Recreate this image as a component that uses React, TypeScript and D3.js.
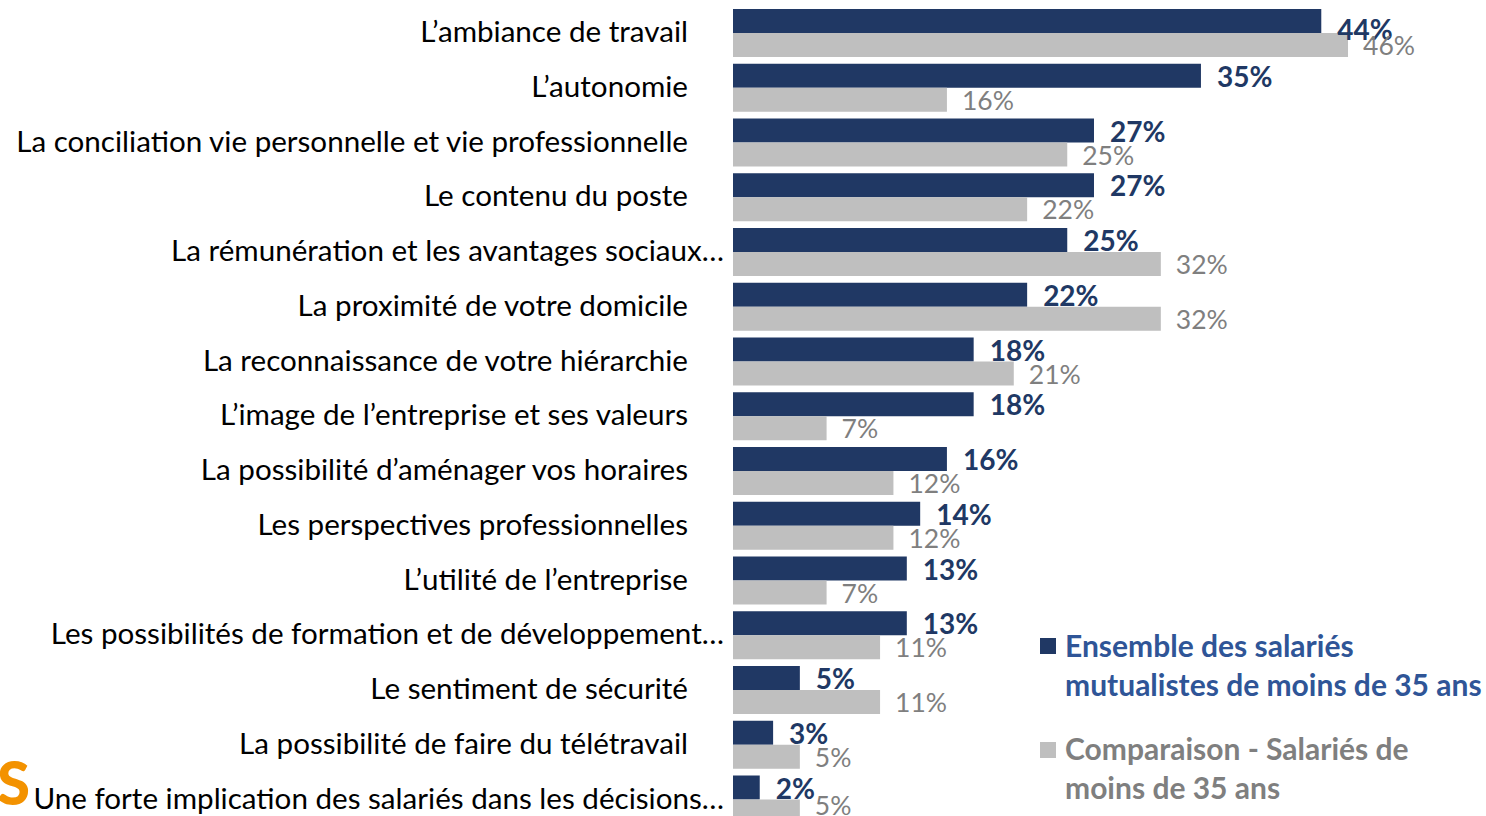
import React from "react";
import * as d3 from "d3";

const categories = [
  "L’ambiance de travail",
  "L’autonomie",
  "La conciliation vie personnelle et vie professionnelle",
  "Le contenu du poste",
  "La rémunération et les avantages sociaux…",
  "La proximité de votre domicile",
  "La reconnaissance de votre hiérarchie",
  "L’image de l’entreprise et ses valeurs",
  "La possibilité d’aménager vos horaires",
  "Les perspectives professionnelles",
  "L’utilité de l’entreprise",
  "Les possibilités de formation et de développement…",
  "Le sentiment de sécurité",
  "La possibilité de faire du télétravail",
  "Une forte implication des salariés dans les décisions…",
];
const ensemble = [44, 35, 27, 27, 25, 22, 18, 18, 16, 14, 13, 13, 5, 3, 2];
const comparaison = [46, 16, 25, 22, 32, 32, 21, 7, 12, 12, 7, 11, 11, 5, 5];
const legendEnsemble = ["Ensemble des salariés", "mutualistes de moins de 35 ans"];
const legendComparaison = ["Comparaison - Salariés de", "moins de 35 ans"];

const W = 1486;
const H = 816;
const DARK = "#203864";
const GREY = "#BFBFBF";
const DARK_TEXT = "#203864";
const GREY_TEXT = "#7F7F7F";
const LEG_BLUE = "#2F5597";
const FONT = "Lato, 'Open Sans', sans-serif";

export default function App() {
  const x = d3.scaleLinear().domain([0, 50]).range([733, 733 + 50 * 13.37]);
  const step = 54.75;
  const y = d3
    .scaleLinear()
    .domain([0, categories.length])
    .range([9, 9 + step * categories.length]);
  const bh = 24;

  return (
    <div style={{ position: "absolute", left: 0, top: 0 }}>
      <svg width={W} height={H} style={{ display: "block", background: "#fff" }}>
        <text x={-3} y={805} fontFamily={FONT} fontWeight={900} fontSize={60} fill="#F39200">
          S
        </text>
        {categories.map((c, i) => {
          const t = y(i);
          const ell = c.endsWith("…");
          const darkY = i === 0 ? t + 31 : t + 23;
          const greyY = Math.min(t + 46, H - 1);
          return (
            <g key={i}>
              <text
                x={ell ? 724 : 688}
                y={t + 33}
                textAnchor="end"
                fontFamily={FONT}
                fontSize={29.6}
                fill="#000"
              >
                {c}
              </text>
              <rect x={x(0)} y={t} width={x(ensemble[i]) - x(0)} height={bh} fill={DARK} />
              <rect x={x(0)} y={t + bh} width={x(comparaison[i]) - x(0)} height={bh} fill={GREY} />
              <text
                x={x(ensemble[i]) + 16}
                y={darkY}
                fontFamily={FONT}
                fontWeight={700}
                fontSize={28}
                fill={DARK_TEXT}
              >
                {ensemble[i]}%
              </text>
              <text
                x={x(comparaison[i]) + 15}
                y={greyY}
                fontFamily={FONT}
                fontSize={26.5}
                fill={GREY_TEXT}
              >
                {comparaison[i]}%
              </text>
            </g>
          );
        })}
        <rect x={1040} y={638} width={16} height={16} fill={DARK} />
        {legendEnsemble.map((l, k) => (
          <text key={k} x={1065} y={657 + k * 39} fontFamily={FONT} fontWeight={700} fontSize={30} fill={LEG_BLUE}>
            {l}
          </text>
        ))}
        <rect x={1040} y={742} width={16} height={16} fill={GREY} />
        {legendComparaison.map((l, k) => (
          <text key={k} x={1065} y={760 + k * 39} fontFamily={FONT} fontWeight={700} fontSize={30} fill={GREY_TEXT}>
            {l}
          </text>
        ))}
      </svg>
    </div>
  );
}
